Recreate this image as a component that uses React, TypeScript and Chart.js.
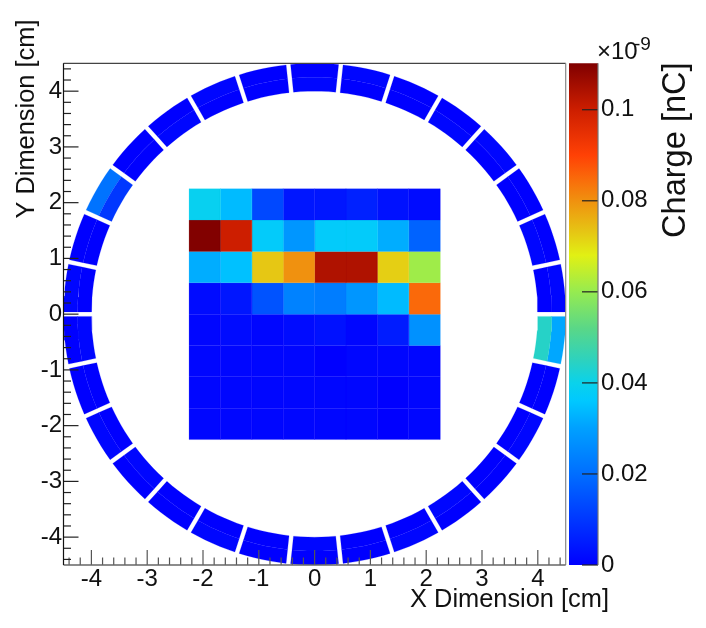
import { useEffect, useRef } from "react"
import { Chart, registerables } from "chart.js"

Chart.register(...registerables)

// pad charges in units of 1e-9 nC, top row first
const padRows = [
  [0.039, 0.034, 0.013, 0.004, 0.004, 0.006, 0.003, 0.002],
  [0.11, 0.1, 0.037, 0.028, 0.037, 0.037, 0.032, 0.018],
  [0.032, 0.035, 0.073, 0.08, 0.104, 0.104, 0.072, 0.061],
  [0.002, 0.004, 0.015, 0.024, 0.023, 0.028, 0.034, 0.085],
  [0.001, 0.002, 0.001, 0.002, 0.003, 0.001, 0.005, 0.027],
  [0.001, 0.001, 0.001, 0.001, 0.0, 0.001, 0.001, 0.001],
  [0.001, 0.001, 0.001, 0.001, 0.001, 0.001, 0.0, 0.001],
  [0.001, 0.001, 0.001, 0.001, 0.001, 0.001, 0.0, 0.001],
]
const padEdge = 2.25

// ring segments, counter-clockwise starting at the one just above +x
const ringInner = [
  0.0, 0.001, 0.0, 0.0, 0.001, 0.0, 0.0, 0.001, 0.0, 0.0,
  0.001, 0.0, 0.01, 0.0, 0.0, 0.001, 0.0, 0.0, 0.001, 0.0,
  0.0, 0.0, 0.001, 0.0, 0.0, 0.001, 0.0, 0.0, 0.0, 0.044,
]
const ringOuter = [
  0.001, 0.0, 0.0, 0.001, 0.0, 0.0, 0.001, 0.0, 0.0, 0.001,
  0.0, 0.0, 0.021, 0.0, 0.001, 0.0, 0.0, 0.001, 0.0, 0.0,
  0.001, 0.0, 0.0, 0.0, 0.001, 0.0, 0.0, 0.001, 0.0, 0.031,
]
const ringRadii = [4.0, 4.25, 4.5]
const ringStep = 12
const ringGap = 0.04

const paletteValues = [0, 0.01, 0.02, 0.03, 0.036, 0.04, 0.045, 0.052, 0.06, 0.068, 0.0735, 0.08, 0.085, 0.09, 0.1, 0.1102]
const paletteColors = [
  [0, 0, 255], [0, 55, 255], [0, 110, 255], [0, 160, 255], [0, 200, 255], [10, 210, 235],
  [45, 210, 190], [90, 215, 135], [150, 235, 80], [225, 240, 20], [230, 195, 20],
  [240, 145, 15], [250, 105, 10], [255, 65, 5], [205, 30, 0], [128, 0, 0],
]
const chargeMax = 0.1102

const axisMajor = [-4, -3, -2, -1, 0, 1, 2, 3, 4]
const axisMinor = [-0.4, -0.2, 0.2, 0.4, 0.6, 0.8]

const FONT = "'Liberation Sans', Arial, sans-serif"

function colorFor(v: number) {
  let i = 0
  while (i < paletteValues.length - 2 && v > paletteValues[i + 1]) i++
  const t = Math.min(1, (v - paletteValues[i]) / (paletteValues[i + 1] - paletteValues[i]))
  const c = paletteColors[i].map((a, k) => Math.round(a + (paletteColors[i + 1][k] - a) * t))
  return `rgb(${c[0]},${c[1]},${c[2]})`
}

function shape(points: { x: number; y: number }[], value: number) {
  const color = colorFor(value)
  return {
    data: [...points, points[0]],
    showLine: true,
    fill: "shape",
    backgroundColor: color,
    borderColor: color,
    borderWidth: 0.2,
    pointRadius: 0,
    tension: 0,
  }
}

function padDatasets() {
  const n = padRows.length
  const size = (2 * padEdge) / n
  const out: any[] = []
  padRows.forEach((row, r) => {
    row.forEach((v, c) => {
      const x0 = -padEdge + c * size
      const y1 = padEdge - r * size
      out.push(shape([
        { x: x0, y: y1 },
        { x: x0 + size, y: y1 },
        { x: x0 + size, y: y1 - size },
        { x: x0, y: y1 - size },
      ], v))
    })
  })
  return out
}

function arcPoints(r: number, centre: number, reverse: boolean) {
  const half = (ringStep / 2) * (Math.PI / 180) - Math.asin(ringGap / r)
  const pts = []
  for (let k = 0; k <= 6; k++) {
    const a = centre - half + (2 * half * k) / 6
    pts.push({ x: r * Math.cos(a), y: r * Math.sin(a) })
  }
  return reverse ? pts.reverse() : pts
}

function ringDatasets() {
  const out: any[] = []
  ;[ringInner, ringOuter].forEach((values, layer) => {
    values.forEach((v, i) => {
      const centre = ((ringStep / 2 + i * ringStep) * Math.PI) / 180
      const pts = [
        ...arcPoints(ringRadii[layer], centre, false),
        ...arcPoints(ringRadii[layer + 1], centre, true),
      ]
      out.push(shape(pts, v))
    })
  })
  return out
}

function line(ctx: CanvasRenderingContext2D, x0: number, y0: number, x1: number, y1: number, color: string, w = 1.2) {
  ctx.strokeStyle = color
  ctx.lineWidth = w
  ctx.beginPath()
  ctx.moveTo(x0, y0)
  ctx.lineTo(x1, y1)
  ctx.stroke()
}

function text(ctx: CanvasRenderingContext2D, s: string, x: number, y: number, size: number, rotate = false, align: CanvasTextAlign = "left") {
  ctx.save()
  ctx.translate(x, y)
  if (rotate) ctx.rotate(-Math.PI / 2)
  ctx.font = `${size}px ${FONT}`
  ctx.fillStyle = "#111"
  ctx.textAlign = align
  ctx.textBaseline = "alphabetic"
  ctx.fillText(s, 0, 0)
  ctx.restore()
}

function setAxisTicks(scale: any) {
  const ticks: { value: number; major: boolean }[] = []
  axisMajor.forEach((m) => {
    ticks.push({ value: m, major: true })
    axisMinor.forEach((d) => {
      if (Math.abs(m + d) < 4.5 && (d > 0 || m === -4)) ticks.push({ value: m + d, major: false })
    })
  })
  scale.ticks = ticks.sort((a, b) => a.value - b.value)
}

// ROOT style frame: ticks point into the plot
const framePlugin = {
  id: "frame",
  afterDatasetsDraw(chart: any) {
    const { ctx, chartArea: a, scales } = chart
    ctx.save()
    scales.x.ticks.forEach((t: any) => {
      const px = scales.x.getPixelForValue(t.value)
      line(ctx, px, a.bottom, px, a.bottom - (t.major ? 15 : 7.5), "#555")
    })
    scales.y.ticks.forEach((t: any) => {
      const py = scales.y.getPixelForValue(t.value)
      line(ctx, a.left, py, a.left + (t.major ? 15 : 7.5), py, "#222")
    })
    line(ctx, a.left, a.top, a.right, a.top, "#444")
    line(ctx, a.right, a.top, a.right, a.bottom, "#888")
    line(ctx, a.left, a.bottom, a.right, a.bottom, "#666", 1.6)
    line(ctx, a.left, a.top, a.left, a.bottom, "#111")
    ctx.restore()
    text(ctx, "X Dimension [cm]", 609, 606.5, 25.4, false, "right")
    text(ctx, "Y Dimension [cm]", 33.5, 218.5, 25.4, true)
  },
}

const barPlugin = {
  id: "bar",
  afterDatasetsDraw(chart: any) {
    const { ctx, chartArea: a, scales } = chart
    ctx.save()
    scales.y.ticks.forEach((t: any) => {
      if (t.value >= chargeMax) return
      const py = scales.y.getPixelForValue(t.value)
      line(ctx, a.right - 16, py, a.right, py, "#222")
    })
    line(ctx, a.right, a.top, a.right, a.bottom, "#777")
    ctx.restore()
    text(ctx, "Charge [nC]", 685, 238, 32.6, true)
    text(ctx, "×10", 597, 59, 24)
    text(ctx, "-9", 634, 50, 19)
  },
}

export default function App() {
  const mapRef = useRef<HTMLCanvasElement>(null)
  const barRef = useRef<HTMLCanvasElement>(null)

  useEffect(() => {
    if (!mapRef.current || !barRef.current) return

    const tickFont = { family: FONT, size: 24 }
    const axisTicks = {
      autoSkip: false,
      maxRotation: 0,
      color: "#111",
      font: tickFont,
      callback: (v: any, i: number, ticks: any[]) => (ticks[i].major ? String(Math.round(v)) : ""),
    }
    const noGrid = { display: false, drawTicks: false }

    const map = new Chart(mapRef.current, {
      type: "scatter",
      data: { datasets: [...padDatasets(), ...ringDatasets()] },
      options: {
        responsive: false,
        animation: false,
        events: [],
        layout: { padding: { left: 0, top: 63.3, right: 140.3, bottom: 0 } },
        plugins: { legend: { display: false }, tooltip: { enabled: false } },
        scales: {
          x: {
            type: "linear",
            min: -4.5,
            max: 4.5,
            grid: noGrid,
            border: { display: false },
            ticks: { ...axisTicks, padding: 0 },
            afterBuildTicks: setAxisTicks,
            afterFit: (s: any) => { s.height = 63 },
          },
          y: {
            type: "linear",
            min: -4.5,
            max: 4.5,
            grid: noGrid,
            border: { display: false },
            ticks: { ...axisTicks, padding: 1.5 },
            afterBuildTicks: setAxisTicks,
            afterFit: (s: any) => { s.width = 63.5 },
          },
        },
      } as any,
      plugins: [framePlugin],
    })

    const bar = new Chart(barRef.current, {
      type: "bar",
      data: {
        labels: ["Charge"],
        datasets: [
          {
            data: [chargeMax],
            borderWidth: 0,
            barPercentage: 1,
            categoryPercentage: 1,
            backgroundColor: (c: any) => {
              const { chart } = c
              if (!chart.chartArea) return colorFor(0)
              const y = chart.scales.y
              const g = chart.ctx.createLinearGradient(0, y.getPixelForValue(0), 0, y.getPixelForValue(chargeMax))
              paletteValues.forEach((v) => g.addColorStop(v / chargeMax, colorFor(v)))
              return g
            },
          },
        ],
      },
      options: {
        responsive: false,
        animation: false,
        events: [],
        layout: { padding: { left: 569, top: 63.3, right: 0, bottom: 63 } },
        plugins: { legend: { display: false }, tooltip: { enabled: false } },
        scales: {
          x: { display: false },
          y: {
            position: "right",
            min: 0,
            max: chargeMax,
            grid: noGrid,
            border: { display: false },
            ticks: {
              stepSize: 0.02,
              padding: 3,
              color: "#111",
              font: tickFont,
              callback: (v: any) => (v >= chargeMax ? "" : String(+v.toFixed(2))),
            },
            afterFit: (s: any) => { s.width = 108 },
          },
        },
      } as any,
      plugins: [barPlugin],
    })

    return () => {
      map.destroy()
      bar.destroy()
    }
  }, [])

  const canvasStyle = { position: "absolute", left: 0, top: 0, display: "block" } as const
  return (
    <div style={{ position: "absolute", left: 0, top: 0, width: 706, height: 628, background: "#fff", overflow: "hidden" }}>
      <canvas ref={mapRef} width={706} height={628} style={canvasStyle} />
      <canvas ref={barRef} width={706} height={628} style={canvasStyle} />
    </div>
  )
}
